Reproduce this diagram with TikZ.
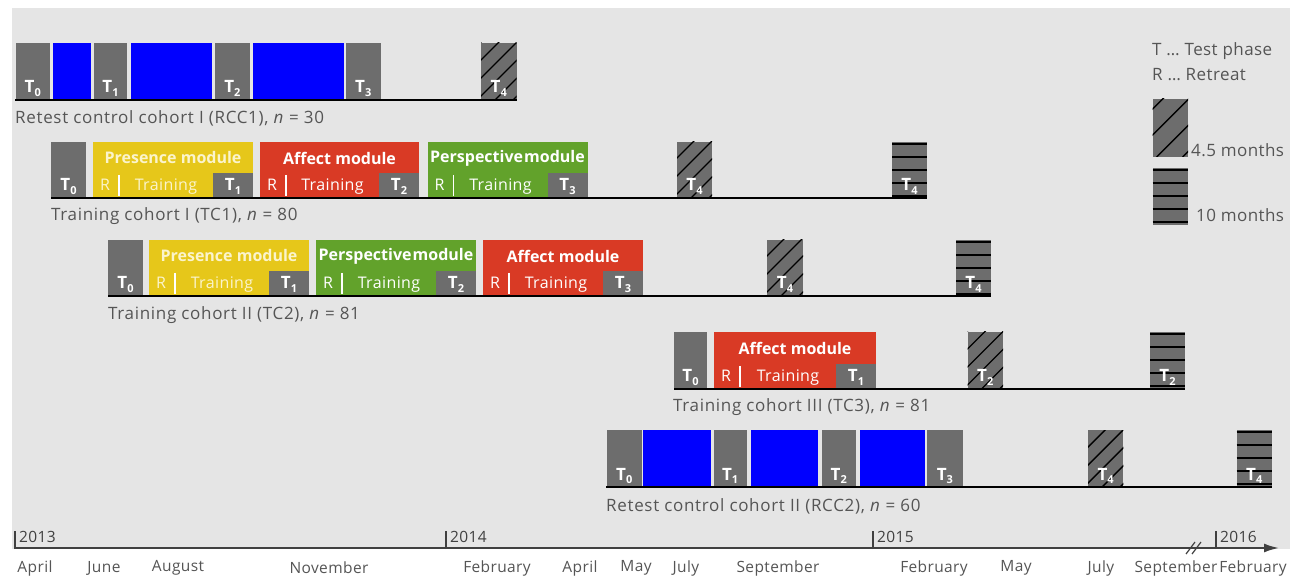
\documentclass[tikz,border=0pt]{standalone}
\usepackage{fontspec}
\setmainfont{Open Sans}
\newfontfamily\wideface[LetterSpace=4]{Open Sans}
\newfontfamily\midface[LetterSpace=2.5]{Open Sans}
\usetikzlibrary{arrows.meta}

\definecolor{bgcol}{HTML}{E5E5E5}
\definecolor{tgrey}{HTML}{6D6D6D}
\definecolor{rblue}{HTML}{0000FF}
\definecolor{pyellow}{HTML}{E6C71A}
\definecolor{ared}{HTML}{D93A25}
\definecolor{pgreen}{HTML}{62A22B}
\definecolor{txt}{HTML}{555555}
\definecolor{axcol}{HTML}{404040}
\definecolor{ytxt}{HTML}{FBF4CC}

\tikzset{
  tlab/.style={text=white, font=\fontsize{17}{17}\selectfont\bfseries, inner sep=0pt, anchor=base},
  modtitle/.style={font=\fontsize{16}{16}\selectfont\bfseries, inner sep=0pt},
  subtext/.style={font=\midface\fontsize{16}{16}\selectfont, inner sep=0pt, anchor=base},
  rowlabel/.style={text=txt, font=\wideface\fontsize{17}{17}\selectfont, inner sep=0pt, anchor=west},
  legendtext/.style={text=txt, font=\midface\fontsize{17}{17}\selectfont, inner sep=0pt, anchor=west},
  monthlab/.style={text=txt, font=\midface\fontsize{15.5}{16}\selectfont, inner sep=0pt},
  yearlab/.style={text=axcol, font=\midface\fontsize{15.5}{16}\selectfont, inner sep=0pt, anchor=west},
  rowline/.style={line width=2.5pt, black},
  hatchline/.style={line width=1.4pt, black},
  tickline/.style={line width=1.6pt, axcol},
}

% T with a lowered small index
\newcommand\Tn[1]{T\raisebox{-3.5pt}{\fontsize{11}{11}\selectfont #1}}

% plain grey test phase: name, x1, x2, top, bottom, index
\newcommand\testbox[6]{%
  \fill[tgrey] (#2,#4) rectangle (#3,#5);
  \node[tlab] (#1) at ({(#2+#3)/2},{#5-7}) {\Tn{#6}};}

% blue retest gap
\newcommand\gapbox[4]{\fill[rblue] (#1,#3) rectangle (#2,#4);}

% follow-up after 4.5 months, diagonal hatching
\newcommand\hatchbox[6]{%
  \fill[tgrey] (#2,#4) rectangle (#3,#5);
  \begin{scope}
    \clip (#2,#4) rectangle (#3,#5);
    \foreach \k in {-4,...,4} \draw[hatchline] ({#2-4+18*\k},#5) -- ++(80,-80);
  \end{scope}
  \node[tlab] (#1) at ({(#2+#3)/2},{#5-7}) {\Tn{#6}};}

% follow-up after 10 months, horizontal stripes
\newcommand\stripebox[6]{%
  \fill[tgrey] (#2,#4) rectangle (#3,#5);
  \foreach \d in {2,15,28,41,54} \draw[hatchline] (#2,{#4+\d}) -- (#3,{#4+\d});
  \node[tlab] (#1) at ({(#2+#3)/2},{#5-7}) {\Tn{#6}};}

% training module: name, fill, text colour, x1, x2, top, bottom, title, index
\newcommand\module[9]{%
  \fill[#2] (#4,#6) rectangle (#5,#7);
  \node[modtitle, text=#3] (#1-title) at ({(#4+#5)/2},{#6+16}) {#8};
  \fill[tgrey] ({#5-40},{#7-25}) rectangle (#5,#7);
  \draw[white, line width=1.6pt] ({#4+26},{#7-23}) -- ({#4+26},{#7-2});
  \node[subtext, text=#3] (#1-r) at ({#4+12},{#7-7}) {R};
  \node[subtext, text=#3] (#1-tr) at ({(#4+#5-14)/2},{#7-7}) {Training};
  \node[tlab] (#1-t) at ({#5-20},{#7-7}) {\Tn{#9}};}

\begin{document}
\begin{tikzpicture}[x=1pt, y=-1pt]
\useasboundingbox (0,0) rectangle (1294,577);
\fill[white] (0,0) rectangle (1294,577);
\fill[bgcol] (12,8) rectangle (1290,549);

% ---- Retest control cohort I
\testbox{r1t0}{15.5}{50}{43}{100}{0}
\gapbox{52.7}{90.6}{43}{100}
\testbox{r1t1}{93.7}{127.4}{43}{100}{1}
\gapbox{130.9}{211.8}{43}{100}
\testbox{r1t2}{215.2}{249.7}{43}{100}{2}
\gapbox{253}{343.7}{43}{100}
\testbox{r1t3}{346}{380.5}{43}{100}{3}
\hatchbox{r1t4}{481}{516.5}{43}{100}{4}
\coordinate (r1a) at (15,100);
\coordinate (r1b) at (516.5,100);
\draw[rowline] (r1a) -- (r1b);
\node[rowlabel] (r1lab) at (15,118) {Retest control cohort I (RCC1), \textit{n} = 30};

% ---- Training cohort I
\testbox{c1t0}{51}{86}{142}{198}{0}
\module{c1p}{pyellow}{ytxt}{93}{253}{142}{198}{Presence module}{1}
\module{c1a}{ared}{white}{260}{419}{142}{198}{Affect module}{2}
\module{c1g}{pgreen}{white}{427.5}{587.5}{142}{198}{Perspective\hspace{-3pt} module}{3}
\hatchbox{c1t4}{677}{712}{142}{198}{4}
\stripebox{c1t5}{892}{927}{142}{198}{4}
\coordinate (c1a) at (51,198);
\coordinate (c1b) at (927,198);
\draw[rowline] (c1a) -- (c1b);
\node[rowlabel] (c1lab) at (51,216) {Training cohort I (TC1), \textit{n} = 80};

% ---- Training cohort II
\testbox{c2t0}{108}{143}{240}{296}{0}
\module{c2p}{pyellow}{ytxt}{149}{309}{240}{296}{Presence module}{1}
\module{c2g}{pgreen}{white}{316}{476}{240}{296}{Perspective\hspace{-3pt} module}{2}
\module{c2a}{ared}{white}{483}{643}{240}{296}{Affect module}{3}
\hatchbox{c2t4}{767}{803}{240}{296}{4}
\stripebox{c2t5}{956}{991}{240}{296}{4}
\coordinate (c2a) at (108,296);
\coordinate (c2b) at (991,296);
\draw[rowline] (c2a) -- (c2b);
\node[rowlabel] (c2lab) at (108,315) {Training cohort II (TC2), \textit{n} = 81};

% ---- Training cohort III
\testbox{c3t0}{674}{707}{332}{389}{0}
\module{c3a}{ared}{white}{714}{876}{332}{389}{Affect module}{1}
\hatchbox{c3t2}{967.5}{1003}{332}{389}{2}
\stripebox{c3t3}{1150}{1185}{332}{389}{2}
\coordinate (c3a) at (674,389);
\coordinate (c3b) at (1185,389);
\draw[rowline] (c3a) -- (c3b);
\node[rowlabel] (c3lab) at (673,407) {Training cohort III (TC3), \textit{n} = 81};

% ---- Retest control cohort II
\testbox{r2t0}{606.5}{642}{430}{487}{0}
\gapbox{643.4}{710.6}{430}{487}
\testbox{r2t1}{713.6}{746.6}{430}{487}{1}
\gapbox{750.5}{817.7}{430}{487}
\testbox{r2t2}{821.6}{855.9}{430}{487}{2}
\gapbox{860}{925}{430}{487}
\testbox{r2t3}{927.4}{962.5}{430}{487}{3}
\hatchbox{r2t4}{1088}{1123.4}{430}{487}{4}
\stripebox{r2t5}{1236.6}{1272}{430}{487}{4}
\coordinate (r2a) at (606,487);
\coordinate (r2b) at (1272,487);
\draw[rowline] (r2a) -- (r2b);
\node[rowlabel] (r2lab) at (606,506) {Retest control cohort II (RCC2), \textit{n} = 60};

% ---- legend
\node[legendtext] (lg1) at (1152,51) {T … Test phase};
\node[legendtext] (lg2) at (1152,75) {R … Retreat};
\fill[tgrey] (1152.7,99) rectangle (1188,157);
\begin{scope}
  \clip (1152.7,99) rectangle (1188,157);
  \foreach \k in {-3,...,3} \draw[hatchline] ({1152.7+4+26*\k},157) -- ++(80,-80);
\end{scope}
\node[legendtext, anchor=base west] (lg3) at (1191,157) {4.5 months};
\fill[tgrey] (1152.7,168) rectangle (1188,225);
\foreach \d in {2,15,28,41,54} \draw[hatchline] (1152.7,{168+\d}) -- (1188,{168+\d});
\node[legendtext, anchor=base west] (lg4) at (1196,222) {10 months};

% ---- time axis
\coordinate (ax0) at (15,548);
\coordinate (ax1) at (1279,548);
\draw[line width=2pt, axcol, -{Latex[length=15pt,width=9pt]}] (ax0) -- (ax1);
\foreach \xx/\yy in {15/2013, 446/2014, 873/2015, 1216/2016}{
  \draw[tickline] (\xx,549) -- (\xx,531);
  \node[yearlab] (y\yy) at (\xx+4,537) {\yy};
}
\draw[line width=1.2pt, axcol] (1186,554) -- (1195,542);
\draw[line width=1.2pt, axcol] (1192,554) -- (1201,542);

\foreach \xx/\mm [count=\i] in {35/April, 104/June, 178/August, 329/November, 497/February,
    580/April, 636/May, 686/July, 778/September, 934/February, 1016/May, 1101/July,
    1176/September, 1253/February}{
  \node[monthlab] (m\i) at (\xx,568) {\mm};
}
\end{tikzpicture}
\end{document}
